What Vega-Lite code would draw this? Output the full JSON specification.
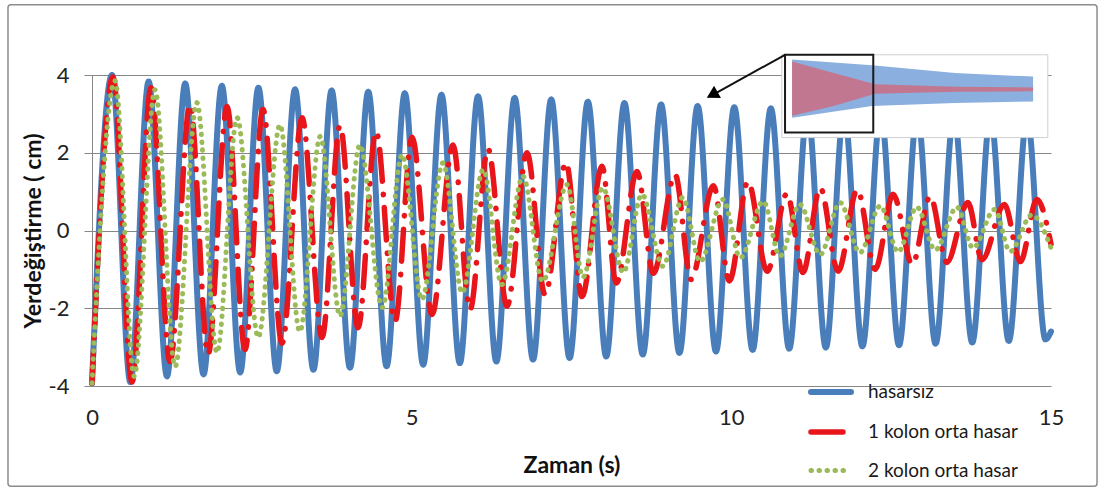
{
  "$schema": "https://vega.github.io/schema/vega-lite/v6.json",
  "autosize": {"type": "none"},
  "width": 959,
  "height": 311,
  "padding": {"left": 92, "top": 75, "right": 50, "bottom": 106},
  "background": "white",
  "config": {"font": "Lato", "view": {"stroke": null}},
  "datasets": {
    "frame": [{"t": -1.314, "t2": 15.72, "v": 5.81, "v2": -6.58}],
    "blue": [
      {"s": "hasarsız", "t": 0, "v": -3.93},
      {"s": "hasarsız", "t": 0.313, "v": 4.0},
      {"s": "hasarsız", "t": 0.6, "v": -3.9},
      {"s": "hasarsız", "t": 0.886, "v": 3.83},
      {"s": "hasarsız", "t": 1.173, "v": -3.75},
      {"s": "hasarsız", "t": 1.458, "v": 3.78},
      {"s": "hasarsız", "t": 1.745, "v": -3.7},
      {"s": "hasarsız", "t": 2.031, "v": 3.72},
      {"s": "hasarsız", "t": 2.318, "v": -3.65},
      {"s": "hasarsız", "t": 2.603, "v": 3.67},
      {"s": "hasarsız", "t": 2.89, "v": -3.62},
      {"s": "hasarsız", "t": 3.176, "v": 3.63},
      {"s": "hasarsız", "t": 3.463, "v": -3.58},
      {"s": "hasarsız", "t": 3.748, "v": 3.6},
      {"s": "hasarsız", "t": 4.035, "v": -3.53},
      {"s": "hasarsız", "t": 4.321, "v": 3.57},
      {"s": "hasarsız", "t": 4.608, "v": -3.49},
      {"s": "hasarsız", "t": 4.893, "v": 3.53},
      {"s": "hasarsız", "t": 5.18, "v": -3.45},
      {"s": "hasarsız", "t": 5.466, "v": 3.49},
      {"s": "hasarsız", "t": 5.753, "v": -3.41},
      {"s": "hasarsız", "t": 6.038, "v": 3.45},
      {"s": "hasarsız", "t": 6.325, "v": -3.37},
      {"s": "hasarsız", "t": 6.611, "v": 3.41},
      {"s": "hasarsız", "t": 6.898, "v": -3.32},
      {"s": "hasarsız", "t": 7.183, "v": 3.37},
      {"s": "hasarsız", "t": 7.47, "v": -3.28},
      {"s": "hasarsız", "t": 7.756, "v": 3.31},
      {"s": "hasarsız", "t": 8.043, "v": -3.24},
      {"s": "hasarsız", "t": 8.328, "v": 3.28},
      {"s": "hasarsız", "t": 8.615, "v": -3.19},
      {"s": "hasarsız", "t": 8.901, "v": 3.24},
      {"s": "hasarsız", "t": 9.188, "v": -3.15},
      {"s": "hasarsız", "t": 9.473, "v": 3.2},
      {"s": "hasarsız", "t": 9.76, "v": -3.11},
      {"s": "hasarsız", "t": 10.046, "v": 3.17},
      {"s": "hasarsız", "t": 10.333, "v": -3.07},
      {"s": "hasarsız", "t": 10.618, "v": 3.14},
      {"s": "hasarsız", "t": 10.905, "v": -3.04},
      {"s": "hasarsız", "t": 11.191, "v": 3.11},
      {"s": "hasarsız", "t": 11.478, "v": -3.01},
      {"s": "hasarsız", "t": 11.763, "v": 3.08},
      {"s": "hasarsız", "t": 12.05, "v": -2.98},
      {"s": "hasarsız", "t": 12.336, "v": 3.05},
      {"s": "hasarsız", "t": 12.623, "v": -2.95},
      {"s": "hasarsız", "t": 12.908, "v": 3.02},
      {"s": "hasarsız", "t": 13.195, "v": -2.91},
      {"s": "hasarsız", "t": 13.481, "v": 2.99},
      {"s": "hasarsız", "t": 13.768, "v": -2.88},
      {"s": "hasarsız", "t": 14.053, "v": 2.96},
      {"s": "hasarsız", "t": 14.34, "v": -2.84},
      {"s": "hasarsız", "t": 14.626, "v": 2.93},
      {"s": "hasarsız", "t": 14.913, "v": -2.8},
      {"s": "hasarsız", "t": 15.0, "v": -2.6}
    ],
    "red": [
      {"s": "1 kolon orta hasar", "t": 0, "v": -3.93},
      {"s": "1 kolon orta hasar", "t": 0.328, "v": 3.95},
      {"s": "1 kolon orta hasar", "t": 0.626, "v": -3.9},
      {"s": "1 kolon orta hasar", "t": 0.923, "v": 3.67},
      {"s": "1 kolon orta hasar", "t": 1.22, "v": -3.37},
      {"s": "1 kolon orta hasar", "t": 1.533, "v": 3.24},
      {"s": "1 kolon orta hasar", "t": 1.815, "v": -3.19},
      {"s": "1 kolon orta hasar", "t": 2.112, "v": 3.19},
      {"s": "1 kolon orta hasar", "t": 2.393, "v": -3.06},
      {"s": "1 kolon orta hasar", "t": 2.675, "v": 3.11},
      {"s": "1 kolon orta hasar", "t": 2.972, "v": -2.9},
      {"s": "1 kolon orta hasar", "t": 3.285, "v": 2.9},
      {"s": "1 kolon orta hasar", "t": 3.598, "v": -2.75},
      {"s": "1 kolon orta hasar", "t": 3.879, "v": 2.7},
      {"s": "1 kolon orta hasar", "t": 4.161, "v": -2.5},
      {"s": "1 kolon orta hasar", "t": 4.442, "v": 2.55},
      {"s": "1 kolon orta hasar", "t": 4.74, "v": -2.34},
      {"s": "1 kolon orta hasar", "t": 5.005, "v": 2.4},
      {"s": "1 kolon orta hasar", "t": 5.318, "v": -2.16},
      {"s": "1 kolon orta hasar", "t": 5.646, "v": 2.2},
      {"s": "1 kolon orta hasar", "t": 5.913, "v": -2.03},
      {"s": "1 kolon orta hasar", "t": 6.194, "v": 2.1},
      {"s": "1 kolon orta hasar", "t": 6.491, "v": -1.95},
      {"s": "1 kolon orta hasar", "t": 6.804, "v": 2.0},
      {"s": "1 kolon orta hasar", "t": 7.086, "v": -1.65},
      {"s": "1 kolon orta hasar", "t": 7.414, "v": 1.75},
      {"s": "1 kolon orta hasar", "t": 7.665, "v": -1.7},
      {"s": "1 kolon orta hasar", "t": 7.977, "v": 1.65},
      {"s": "1 kolon orta hasar", "t": 8.2, "v": -1.35},
      {"s": "1 kolon orta hasar", "t": 8.525, "v": 1.52},
      {"s": "1 kolon orta hasar", "t": 8.78, "v": -1.1},
      {"s": "1 kolon orta hasar", "t": 9.12, "v": 1.44},
      {"s": "1 kolon orta hasar", "t": 9.37, "v": -1.26},
      {"s": "1 kolon orta hasar", "t": 9.72, "v": 1.15},
      {"s": "1 kolon orta hasar", "t": 9.97, "v": -1.3},
      {"s": "1 kolon orta hasar", "t": 10.26, "v": 1.26},
      {"s": "1 kolon orta hasar", "t": 10.56, "v": -1.05},
      {"s": "1 kolon orta hasar", "t": 10.87, "v": 0.95},
      {"s": "1 kolon orta hasar", "t": 11.12, "v": -1.08},
      {"s": "1 kolon orta hasar", "t": 11.39, "v": 1.1},
      {"s": "1 kolon orta hasar", "t": 11.67, "v": -1.05},
      {"s": "1 kolon orta hasar", "t": 11.97, "v": 1.05},
      {"s": "1 kolon orta hasar", "t": 12.25, "v": -1.0},
      {"s": "1 kolon orta hasar", "t": 12.53, "v": 0.93},
      {"s": "1 kolon orta hasar", "t": 12.83, "v": -0.87},
      {"s": "1 kolon orta hasar", "t": 13.11, "v": 0.88},
      {"s": "1 kolon orta hasar", "t": 13.37, "v": -0.82},
      {"s": "1 kolon orta hasar", "t": 13.7, "v": 0.72},
      {"s": "1 kolon orta hasar", "t": 13.92, "v": -0.75},
      {"s": "1 kolon orta hasar", "t": 14.27, "v": 0.67},
      {"s": "1 kolon orta hasar", "t": 14.52, "v": -0.8},
      {"s": "1 kolon orta hasar", "t": 14.78, "v": 0.8},
      {"s": "1 kolon orta hasar", "t": 15.0, "v": -0.35}
    ],
    "green": [
      {"s": "2 kolon orta hasar", "t": 0, "v": -3.93},
      {"s": "2 kolon orta hasar", "t": 0.36, "v": 3.85},
      {"s": "2 kolon orta hasar", "t": 0.66, "v": -3.75},
      {"s": "2 kolon orta hasar", "t": 0.985, "v": 3.62},
      {"s": "2 kolon orta hasar", "t": 1.3, "v": -3.5},
      {"s": "2 kolon orta hasar", "t": 1.64, "v": 3.29},
      {"s": "2 kolon orta hasar", "t": 1.955, "v": -3.14},
      {"s": "2 kolon orta hasar", "t": 2.27, "v": 2.9},
      {"s": "2 kolon orta hasar", "t": 2.6, "v": -2.75},
      {"s": "2 kolon orta hasar", "t": 2.94, "v": 2.72},
      {"s": "2 kolon orta hasar", "t": 3.25, "v": -2.6},
      {"s": "2 kolon orta hasar", "t": 3.57, "v": 2.42},
      {"s": "2 kolon orta hasar", "t": 3.88, "v": -2.2},
      {"s": "2 kolon orta hasar", "t": 4.19, "v": 2.2},
      {"s": "2 kolon orta hasar", "t": 4.54, "v": -1.98},
      {"s": "2 kolon orta hasar", "t": 4.85, "v": 1.95},
      {"s": "2 kolon orta hasar", "t": 5.16, "v": -1.77},
      {"s": "2 kolon orta hasar", "t": 5.49, "v": 1.74},
      {"s": "2 kolon orta hasar", "t": 5.79, "v": -1.6},
      {"s": "2 kolon orta hasar", "t": 6.12, "v": 1.57},
      {"s": "2 kolon orta hasar", "t": 6.41, "v": -1.39},
      {"s": "2 kolon orta hasar", "t": 6.74, "v": 1.4},
      {"s": "2 kolon orta hasar", "t": 7.05, "v": -1.31},
      {"s": "2 kolon orta hasar", "t": 7.43, "v": 1.18},
      {"s": "2 kolon orta hasar", "t": 7.68, "v": -1.2},
      {"s": "2 kolon orta hasar", "t": 7.99, "v": 1.1},
      {"s": "2 kolon orta hasar", "t": 8.31, "v": -1.08},
      {"s": "2 kolon orta hasar", "t": 8.6, "v": 0.93},
      {"s": "2 kolon orta hasar", "t": 8.93, "v": -0.92},
      {"s": "2 kolon orta hasar", "t": 9.24, "v": 0.85},
      {"s": "2 kolon orta hasar", "t": 9.51, "v": -0.8},
      {"s": "2 kolon orta hasar", "t": 9.87, "v": 0.8},
      {"s": "2 kolon orta hasar", "t": 10.14, "v": -0.7},
      {"s": "2 kolon orta hasar", "t": 10.5, "v": 0.75},
      {"s": "2 kolon orta hasar", "t": 10.76, "v": -0.66},
      {"s": "2 kolon orta hasar", "t": 11.07, "v": 0.67},
      {"s": "2 kolon orta hasar", "t": 11.39, "v": -0.62},
      {"s": "2 kolon orta hasar", "t": 11.7, "v": 0.72},
      {"s": "2 kolon orta hasar", "t": 12.01, "v": -0.57},
      {"s": "2 kolon orta hasar", "t": 12.33, "v": 0.63},
      {"s": "2 kolon orta hasar", "t": 12.61, "v": -0.55},
      {"s": "2 kolon orta hasar", "t": 12.9, "v": 0.6},
      {"s": "2 kolon orta hasar", "t": 13.19, "v": -0.5},
      {"s": "2 kolon orta hasar", "t": 13.53, "v": 0.6},
      {"s": "2 kolon orta hasar", "t": 13.78, "v": -0.45},
      {"s": "2 kolon orta hasar", "t": 14.12, "v": 0.54},
      {"s": "2 kolon orta hasar", "t": 14.36, "v": -0.54},
      {"s": "2 kolon orta hasar", "t": 14.7, "v": 0.4},
      {"s": "2 kolon orta hasar", "t": 15.0, "v": -0.45}
    ],
    "inset": [{"t": 10.79, "t2": 14.95, "v": 4.52, "v2": 2.39}],
    "band": [
      {"t": 10.95, "v": 2.9, "v2": 4.4},
      {"t": 12.2, "v": 3.2, "v2": 4.25},
      {"t": 13.5, "v": 3.28, "v2": 4.05},
      {"t": 14.72, "v": 3.32, "v2": 3.96}
    ],
    "rband": [
      {"t": 10.95, "v": 2.95, "v2": 4.35},
      {"t": 11.6, "v": 3.2, "v2": 4.05},
      {"t": 12.25, "v": 3.52, "v2": 3.76},
      {"t": 13.5, "v": 3.57, "v2": 3.7},
      {"t": 14.72, "v": 3.58, "v2": 3.68}
    ],
    "box": [{"t": 10.84, "t2": 12.22, "v": 4.52, "v2": 2.52}],
    "arrow": [{"t": 10.84, "v": 4.52, "t2": 9.73, "v2": 3.51}],
    "head": [{"t": 9.7, "v": 3.49}]
  },
  "encoding": {
    "x": {
      "field": "t",
      "type": "quantitative",
      "scale": {"domain": [0, 15], "nice": false, "zero": false},
      "axis": {
        "values": [0, 5, 10, 15],
        "title": "Zaman (s)",
        "grid": false,
        "ticks": false,
        "domain": false,
        "labelFontSize": 22,
        "labelPadding": 21,
        "labelColor": "#222222",
        "labelFlush": false,
        "titleFontSize": 23,
        "titleFontWeight": "bold",
        "titleColor": "#111111",
        "titlePadding": 26
      }
    },
    "y": {
      "field": "v",
      "type": "quantitative",
      "scale": {"domain": [-4, 4], "nice": false, "zero": false},
      "axis": {
        "values": [-4, -2, 0, 2, 4],
        "labelExpr": "'' + datum.value",
        "title": "Yerdeğiştirme ( cm)",
        "grid": true,
        "gridColor": "#878787",
        "gridWidth": 1,
        "domain": true,
        "domainColor": "#878787",
        "ticks": true,
        "tickSize": 8,
        "tickColor": "#878787",
        "labelFontSize": 22,
        "labelPadding": 15,
        "labelColor": "#222222",
        "titleFontSize": 23,
        "titleFontWeight": "bold",
        "titleColor": "#111111",
        "titlePadding": 3
      }
    }
  },
  "layer": [
    {
      "data": {"name": "frame"},
      "mark": {"type": "rect", "filled": false, "stroke": "#8c8c8c", "strokeWidth": 1.5, "cornerRadius": 3},
      "encoding": {"x2": {"field": "t2"}, "y2": {"field": "v2"}}
    },
    {
      "data": {"name": "blue"},
      "mark": {"type": "line", "interpolate": "monotone", "strokeCap": "round"},
      "encoding": {
        "color": {
          "field": "s", "type": "nominal",
          "scale": {"domain": ["hasarsız", "1 kolon orta hasar", "2 kolon orta hasar"], "range": ["#4a7ebb", "#e8151b", "#9bbb59"]},
          "legend": {"title": null, "orient": "none", "legendX": 716, "legendY": 294, "symbolType": "stroke", "symbolSize": 1600, "labelFontSize": 19, "labelColor": "#1a1a1a", "labelOffset": 14, "rowPadding": 5, "padding": 0, "labelLimit": 300, "encode": {"symbols": {"update": {"strokeCap": {"value": "round"}}}}}
        },
        "strokeDash": {
          "field": "s", "type": "nominal",
          "scale": {"domain": ["hasarsız", "1 kolon orta hasar", "2 kolon orta hasar"], "range": [[1, 0], [32, 13, 0.5, 13], [0.5, 7.5]]}
        },
        "strokeWidth": {
          "field": "s", "type": "nominal",
          "scale": {"domain": ["hasarsız", "1 kolon orta hasar", "2 kolon orta hasar"], "range": [6, 5, 4.5]}
        }
      }
    },
    {
      "data": {"name": "red"},
      "mark": {"type": "line", "interpolate": "monotone", "strokeCap": "round"},
      "encoding": {
        "color": {"field": "s", "type": "nominal"},
        "strokeDash": {"field": "s", "type": "nominal"},
        "strokeWidth": {"field": "s", "type": "nominal"}
      }
    },
    {
      "data": {"name": "green"},
      "mark": {"type": "line", "interpolate": "monotone", "strokeCap": "round"},
      "encoding": {
        "color": {"field": "s", "type": "nominal"},
        "strokeDash": {"field": "s", "type": "nominal"},
        "strokeWidth": {"field": "s", "type": "nominal"}
      }
    },
    {
      "data": {"name": "inset"},
      "mark": {"type": "rect", "fill": "white", "stroke": "#d0d0d0", "strokeWidth": 1},
      "encoding": {"x2": {"field": "t2"}, "y2": {"field": "v2"}}
    },
    {
      "data": {"name": "band"},
      "mark": {"type": "area", "fill": "#7ea6da", "opacity": 0.9},
      "encoding": {"y2": {"field": "v2"}}
    },
    {
      "data": {"name": "rband"},
      "mark": {"type": "area", "fill": "#d8606f", "opacity": 0.7},
      "encoding": {"y2": {"field": "v2"}}
    },
    {
      "data": {"name": "box"},
      "mark": {"type": "rect", "filled": false, "stroke": "#1a1a1a", "strokeWidth": 2},
      "encoding": {"x2": {"field": "t2"}, "y2": {"field": "v2"}}
    },
    {
      "data": {"name": "arrow"},
      "mark": {"type": "rule", "stroke": "#111111", "strokeWidth": 2},
      "encoding": {"x2": {"field": "t2"}, "y2": {"field": "v2"}}
    },
    {
      "data": {"name": "head"},
      "mark": {"type": "point", "shape": "triangle-up", "filled": true, "fill": "#000000", "strokeWidth": 0, "size": 200, "angle": 241, "opacity": 1},
      "encoding": {}
    }
  ]
}
